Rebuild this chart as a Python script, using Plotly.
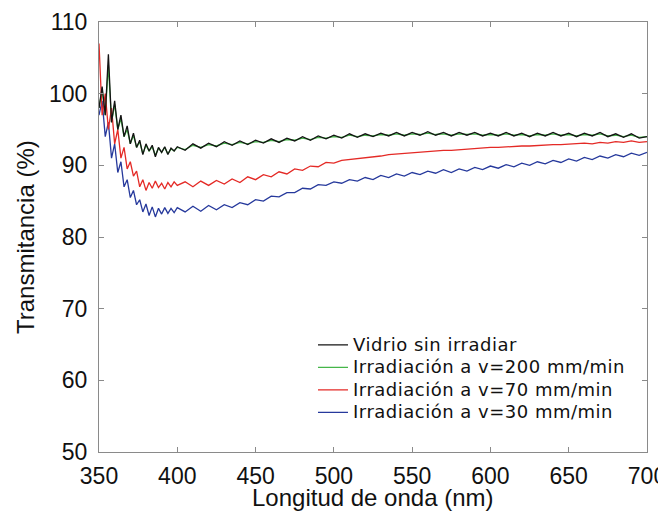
import plotly.graph_objects as go

# Wavelength grid (nm): 2 nm steps in the noisy start, 5 nm steps afterwards
wl_start = [350, 352, 354, 356, 358, 360, 362, 364, 366, 368, 370, 372, 374, 376, 378,
            380, 382, 384, 386, 388, 390, 392, 394, 396, 398, 400]
wl_rest = [405, 410, 415, 420, 425, 430, 435, 440, 445, 450, 455, 460, 465, 470, 475,
           480, 485, 490, 495, 500, 505, 510, 515, 520, 525, 530, 535, 540, 545, 550,
           555, 560, 565, 570, 575, 580, 585, 590, 595, 600, 605, 610, 615, 620, 625,
           630, 635, 640, 645, 650, 655, 660, 665, 670, 675, 680, 685, 690, 695, 700]
wavelength = wl_start + wl_rest

vidrio = [98, 101, 97, 105.5, 96, 99, 95, 97, 94, 95.5, 93, 94.5, 92.5, 93.5, 91.5,
          93, 92, 92.8, 91.2, 92.5, 91.8, 92.6, 91.5, 92.4, 92, 92.6,
          92.1, 93.0, 92.4, 93.1, 92.6, 93.3, 92.8, 93.4, 92.9, 93.5, 93.1, 93.7, 93.2, 93.8, 93.4,
          94.0, 93.5, 94.1, 93.7, 94.2, 93.8, 94.4, 93.9, 94.4, 94.0, 94.5, 94.1, 94.6, 94.1, 94.6,
          94.2, 94.7, 94.2, 94.6, 94.1, 94.6, 94.2, 94.6, 94.1, 94.5, 94.1, 94.6, 94.1, 94.5, 94.0,
          94.5, 94.1, 94.6, 94.1, 94.5, 94.0, 94.5, 94.1, 94.6, 94.0, 94.4, 93.9, 94.4, 93.8, 94.0]

# v=200 mm/min: hidden underneath the untreated-glass curve
v200 = [98, 100.5, 97, 104, 96, 98.5, 95, 96.5, 94, 95, 93, 94.2, 92.5, 93.3, 91.6,
        92.8, 92, 92.6, 91.4, 92.4, 91.8, 92.5, 91.6, 92.3, 92, 92.5,
        92.2, 92.8, 92.5, 92.9, 92.7, 93.1, 92.9, 93.2, 93.0, 93.3, 93.2, 93.5, 93.3, 93.6, 93.5,
        93.8, 93.6, 93.9, 93.8, 94.0, 93.9, 94.2, 94.0, 94.2, 94.1, 94.3, 94.2, 94.4, 94.2, 94.4,
        94.3, 94.5, 94.3, 94.4, 94.2, 94.4, 94.3, 94.4, 94.2, 94.3, 94.2, 94.4, 94.2, 94.3, 94.1,
        94.3, 94.2, 94.4, 94.2, 94.3, 94.1, 94.3, 94.2, 94.4, 94.1, 94.2, 94.0, 94.2, 93.9, 94.0]

v70 = [107, 97, 100, 95, 98, 93, 95, 91, 92.5, 89.5, 90.5, 88.5, 89.2, 87, 88,
       86.5, 87.6, 86.8, 87.8, 86.9, 87.5, 86.7, 87.6, 87.0, 87.7, 87.2,
       87.7, 87.0, 87.8, 87.2, 87.9, 87.4, 88.1, 87.6, 88.4, 88.0, 88.7, 88.4, 89.1, 88.8, 89.5,
       89.3, 89.9, 89.8, 90.4, 90.3, 90.7, 90.8, 91.0, 91.1, 91.2, 91.3, 91.5, 91.6, 91.7, 91.8,
       91.9, 92.0, 92.0, 92.1, 92.1, 92.2, 92.3, 92.4, 92.4, 92.5, 92.5, 92.6, 92.6, 92.7, 92.7,
       92.8, 92.8, 92.9, 92.9, 93.0, 93.0, 93.1, 93.0, 93.2, 93.1, 93.3, 93.2, 93.4, 93.2, 93.3]

v30 = [97, 99, 94, 96, 91, 93, 89, 90.5, 87, 88, 85.5, 86.5, 84.5, 85.2, 83.5,
       84.6, 83, 84.2, 82.8, 84.0, 83.2, 84.1, 83.3, 84.0, 83.4, 84.1,
       83.5, 84.3, 83.6, 84.4, 83.8, 84.5, 84.1, 84.8, 84.5, 85.2, 85.0, 85.7, 85.6, 86.2, 86.2,
       86.8, 86.7, 87.3, 87.2, 87.7, 87.5, 88.0, 87.8, 88.3, 88.0, 88.6, 88.3, 88.8, 88.5, 89.0,
       88.7, 89.2, 88.9, 89.4, 89.0, 89.5, 89.2, 89.7, 89.4, 89.9, 89.6, 90.1, 89.8, 90.3, 90.0,
       90.5, 90.2, 90.7, 90.4, 90.9, 90.6, 91.1, 90.8, 91.3, 91.0, 91.5, 91.2, 91.7, 91.4, 91.8]

x_ticks = [350, 400, 450, 500, 550, 600, 650, 700]
y_ticks = [50, 60, 70, 80, 90, 100, 110]

series = [
    ("Irradiación a v=200 mm/min", v200, "#45b649"),
    ("Irradiación a v=30 mm/min", v30, "#26399c"),
    ("Irradiación a v=70 mm/min", v70, "#e42a26"),
    ("Vidrio sin irradiar", vidrio, "#141414"),
]
legend_rank = {"Vidrio sin irradiar": 1, "Irradiación a v=200 mm/min": 2,
               "Irradiación a v=70 mm/min": 3, "Irradiación a v=30 mm/min": 4}

fig = go.Figure()
for name, vals, col in series:
    label = '<span style="font-size:18px;letter-spacing:0.5px">' + name + '</span>'
    fig.add_trace(go.Scatter(x=wavelength, y=vals, mode="lines", name=label,
                             line=dict(color=col, width=1.3),
                             legendrank=legend_rank[name]))

title_font = dict(family="Liberation Sans, Arial", size=24, color="#111")
axis_common = dict(showgrid=False, zeroline=False, showline=True, linecolor="#8a8a8a",
                   linewidth=1, mirror="ticks", ticks="inside", ticklen=5,
                   tickcolor="#8a8a8a", automargin=False, ticklabeloverflow="allow",
                   tickfont=dict(family="Liberation Sans, Arial", size=23, color="#111"))

fig.update_xaxes(range=[350, 700], tickvals=x_ticks, ticklabelstandoff=3, **axis_common)
fig.update_yaxes(range=[50, 110], tickvals=y_ticks, ticklabelstandoff=6, **axis_common)

# The page body adds an 8 px offset, so the figure is 8 px smaller than the window
fig.update_layout(
    width=658, height=504,
    margin=dict(l=91, r=19, t=14, b=60),
    paper_bgcolor="white", plot_bgcolor="white",
    legend=dict(x=0.3905, y=0.287, xanchor="left", yanchor="top",
                bgcolor="rgba(0,0,0,0)", itemwidth=30, tracegroupgap=0,
                font=dict(family="DejaVu Sans", size=15, color="#111")),
    annotations=[
        dict(text="Longitud de onda (nm)", xref="paper", yref="paper",
             x=0.5, y=-0.105, xanchor="center", yanchor="middle",
             showarrow=False, font=title_font),
        dict(text="Transmitancia (%)", xref="paper", yref="paper",
             x=-0.135, y=0.5, xanchor="center", yanchor="middle", textangle=-90,
             showarrow=False, font=title_font),
    ],
)

fig.write_html("out.html")
